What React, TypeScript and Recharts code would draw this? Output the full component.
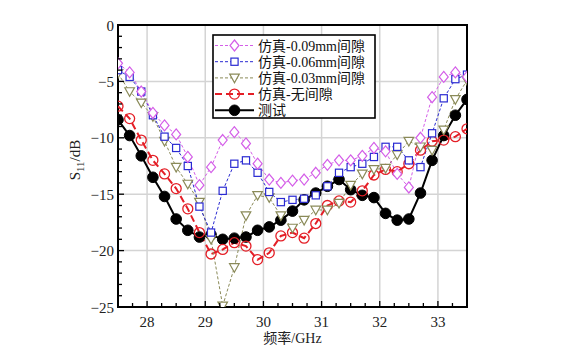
import React from 'react';
import { LineChart, Line, XAxis, YAxis, CartesianGrid, ReferenceArea, Legend } from 'recharts';

const freq = [27.5, 27.7, 27.9, 28.1, 28.3, 28.5, 28.7, 28.9, 29.1, 29.3, 29.5, 29.7, 29.9, 30.1, 30.3, 30.5, 30.7, 30.9, 31.1, 31.3, 31.5, 31.7, 31.9, 32.1, 32.3, 32.5, 32.7, 32.9, 33.1, 33.3, 33.5];
const gap009 = [-3.4, -4.2, -5.9, -7.8, -8.9, -9.7, -11.7, -14.2, -12.6, -10.2, -9.5, -10.5, -12.3, -13.7, -14.0, -13.8, -13.7, -13.1, -12.4, -12.0, -12.0, -11.6, -10.9, -11.2, -13.2, -14.4, -10.0, -6.4, -4.6, -4.2, -4.6];
const gap006 = [-4.0, -4.6, -5.9, -8.0, -9.9, -10.9, -12.5, -16.1, -18.4, -14.7, -12.3, -12.0, -13.1, -14.8, -15.7, -15.5, -15.4, -15.1, -14.3, -13.1, -12.6, -12.3, -11.7, -10.8, -10.8, -12.0, -12.6, -9.6, -6.5, -4.8, -4.4];
const gap003 = [-4.3, -5.9, -6.9, -8.1, -10.3, -12.6, -14.1, -15.7, -19.0, -24.9, -21.5, -16.9, -15.1, -15.3, -16.9, -18.0, -17.3, -16.4, -16.4, -15.8, -14.2, -13.2, -12.8, -12.7, -11.5, -10.3, -10.8, -11.1, -9.3, -6.6, -4.9];
const noGap = [-7.2, -8.3, -10.2, -12.0, -13.2, -14.5, -16.3, -18.4, -20.3, -19.9, -19.3, -19.6, -20.8, -20.2, -18.7, -18.4, -18.9, -17.6, -16.0, -15.6, -15.7, -14.7, -13.3, -12.8, -13.0, -12.3, -11.1, -10.3, -10.2, -9.9, -9.2];
const measured = [-8.4, -9.8, -11.6, -13.5, -15.2, -17.2, -18.2, -18.8, -18.6, -19.0, -18.9, -18.8, -18.2, -17.9, -17.3, -16.5, -15.5, -14.9, -14.3, -13.7, -14.6, -15.1, -15.3, -16.7, -17.3, -17.2, -14.9, -12.0, -9.8, -8.0, -6.6];

const seriesNames = ['仿真-0.09mm间隙', '仿真-0.06mm间隙', '仿真-0.03mm间隙', '仿真-无间隙', '测试'];

const xMajor = [28, 29, 30, 31, 32, 33];
const xTicks = [27.75, 28, 28.25, 28.5, 28.75, 29, 29.25, 29.5, 29.75, 30, 30.25, 30.5, 30.75, 31, 31.25, 31.5, 31.75, 32, 32.25, 32.5, 32.75, 33, 33.25];
const yMajor = [0, -5, -10, -15, -20, -25];
const yTicks = [0, -1, -2, -3, -4, -5, -6, -7, -8, -9, -10, -11, -12, -13, -14, -15, -16, -17, -18, -19, -20, -21, -22, -23, -24, -25];
const yGrid = [-5, -10, -15, -20];

const data = freq.map((f, i) => ({
  f,
  a: gap009[i],
  b: gap006[i],
  c: gap003[i],
  d: noGap[i],
  e: measured[i],
}));

const FONT = "'Liberation Serif', 'Noto Sans CJK SC', serif";
const C_MAG = '#d45ee8';
const C_BLUE = '#2a2ad2';
const C_OLIVE = '#8a8a58';
const C_RED = '#e41e26';
const C_BLACK = '#000000';

type Shape = 'diamond' | 'square' | 'tri' | 'ocircle' | 'fcircle';

function marker(shape: Shape, cx: number, cy: number, color: string, key?: string) {
  if (cx == null || cy == null || isNaN(cx) || isNaN(cy)) return <g key={key} />;
  switch (shape) {
    case 'diamond':
      return <path key={key} d={`M${cx},${cy - 5.5}L${cx + 4.5},${cy}L${cx},${cy + 5.5}L${cx - 4.5},${cy}Z`} fill="#fff" stroke={color} strokeWidth={1.2} />;
    case 'square':
      return <rect key={key} x={cx - 3.6} y={cy - 3.6} width={7.2} height={7.2} fill="#fff" stroke={color} strokeWidth={1.2} />;
    case 'tri':
      return <path key={key} d={`M${cx - 4.8},${cy - 3.8}L${cx + 4.8},${cy - 3.8}L${cx},${cy + 4.8}Z`} fill="#fff" stroke={color} strokeWidth={1.2} />;
    case 'ocircle':
      return <circle key={key} cx={cx} cy={cy} r={5} fill="none" stroke={color} strokeWidth={1.3} />;
    default:
      return <circle key={key} cx={cx} cy={cy} r={5.3} fill={color} stroke={color} strokeWidth={1} />;
  }
}

const seriesStyle = [
  { key: 'a', color: C_MAG, shape: 'diamond' as Shape, width: 1, dash: '3 2' },
  { key: 'b', color: C_BLUE, shape: 'square' as Shape, width: 1, dash: '3 2' },
  { key: 'c', color: C_OLIVE, shape: 'tri' as Shape, width: 1, dash: '3 2' },
  { key: 'd', color: C_RED, shape: 'ocircle' as Shape, width: 2, dash: '7 4' },
  { key: 'e', color: C_BLACK, shape: 'fcircle' as Shape, width: 2, dash: undefined as string | undefined },
];

const renderXTick = (props: any) => {
  const { x, y, payload } = props;
  const v = payload.value;
  const major = xMajor.includes(v);
  return (
    <g>
      <line x1={x} x2={x} y1={y} y2={y - (major ? 6 : 4)} stroke="#000" strokeWidth={1.3} />
      {major && (
        <text x={x} y={y + 20} textAnchor="middle" fontSize={15} fontFamily={FONT} fill="#222">
          {v}
        </text>
      )}
    </g>
  );
};

const renderYTick = (props: any) => {
  const { x, y, payload } = props;
  const v = payload.value;
  const major = yMajor.includes(v);
  return (
    <g>
      <line x1={x} x2={x + (major ? 6 : 4)} y1={y} y2={y} stroke="#000" strokeWidth={1.3} />
      {major && (
        <text x={x - 4} y={y + 5.5} textAnchor="end" fontSize={15} fontFamily={FONT} fill="#222">
          {v < 0 ? `−${Math.abs(v)}` : `${v}`}
        </text>
      )}
    </g>
  );
};

const LegendBox = () => (
  <svg width={164} height={86} style={{ display: 'block' }}>
    <rect x={1} y={1} width={162} height={83} fill="#fff" stroke="#000" strokeWidth={1.6} />
    {seriesStyle.map((s, i) => {
      const cy = 11.5 + i * 16.2;
      return (
        <g key={s.key}>
          <line x1={3} x2={42} y1={cy} y2={cy} stroke={s.color} strokeWidth={s.width} strokeDasharray={s.dash} />
          {marker(s.shape, 22.5, cy, s.color)}
          <text x={46} y={cy + 5} fontSize={14} fontFamily={FONT} fill="#111">
            {seriesNames[i]}
          </text>
        </g>
      );
    })}
  </svg>
);

const drawOrder = [4, 3, 2, 1, 0];

export default function App() {
  return (
    <div style={{ width: 554, height: 340, position: 'relative' }}>
      <LineChart width={554} height={340} data={data} margin={{ top: 17, right: 95, bottom: 0, left: 0 }}>
        <CartesianGrid
          stroke="#d4d4d4"
          strokeWidth={1.5}
          horizontalValues={yGrid}
          verticalValues={xMajor}
        />
        <XAxis
          dataKey="f"
          type="number"
          domain={[27.5, 33.5]}
          ticks={xTicks}
          interval={0}
          tick={renderXTick}
          tickLine={false}
          axisLine={false}
          tickSize={0}
          tickMargin={0}
          height={41}
          allowDataOverflow
        />
        <YAxis
          type="number"
          domain={[-25, 0]}
          ticks={yTicks}
          interval={0}
          tick={renderYTick}
          tickLine={false}
          axisLine={false}
          tickSize={0}
          tickMargin={0}
          width={110}
          allowDataOverflow
        />
        {drawOrder.map((idx) => {
          const s = seriesStyle[idx];
          return (
            <Line
              key={s.key}
              dataKey={s.key}
              name={seriesNames[idx]}
              type="linear"
              stroke={s.color}
              strokeWidth={s.width}
              strokeDasharray={s.dash}
              isAnimationActive={false}
              dot={(p: any) => marker(s.shape, p.cx, p.cy, s.color, `${s.key}-${p.index}`)}
              activeDot={false}
            />
          );
        })}
        <ReferenceArea x1={27.5} x2={33.5} y1={-25} y2={0} fill="none" fillOpacity={0} stroke="#000" strokeWidth={2} />
        <Legend
          layout="vertical"
          align="center"
          verticalAlign="middle"
          wrapperStyle={{ left: 204, top: 26, width: 164, height: 86 }}
          content={() => <LegendBox />}
        />
      </LineChart>
      <svg width={554} height={340} style={{ position: 'absolute', left: 0, top: 0, pointerEvents: 'none' }}>
        <text transform="rotate(-90 72 152)" x={72} y={152} textAnchor="middle" fontSize={15} fontFamily={FONT} fill="#222">
          S<tspan dy={4} fontSize={11}>11</tspan>
          <tspan dy={-4}>/dB</tspan>
        </text>
        <text x={284.5} y={335} textAnchor="middle" fontSize={14} fontFamily={FONT} fill="#222">
          频率/GHz
        </text>
      </svg>
    </div>
  );
}
